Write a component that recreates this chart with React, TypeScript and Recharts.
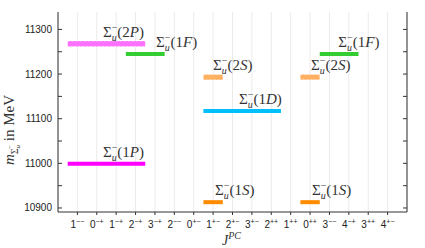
import React from 'react';
import {
  ComposedChart,
  XAxis,
  YAxis,
  CartesianGrid,
  ReferenceLine,
  ReferenceArea,
  ReferenceDot,
  Label,
} from 'recharts';

// J^PC channels along the x axis (position = index + 1)
const channels = ['1−−', '0−+', '1−+', '2−+', '3−+', '2−−', '0+−', '1+−', '2+−', '3+−', '2++', '1++', '0++', '3−−', '4−+', '3++', '4+−'];

// levels, one entry per drawn bar
const levelNames = ['1P', '2P', '1F', '1F', '2S', '2S', '1D', '1S', '1S'];
const levelMass = [10999, 11268, 11245, 11245, 11193, 11193, 11117, 10913, 10913];
const levelError = [0, 6, 0, 0, 6, 6, 0, 0, 0];
const levelFrom = ['1−−', '1−−', '2−+', '3−−', '1+−', '0++', '1+−', '1+−', '0++'];
const levelTo = ['2−+', '2−+', '3−+', '4−+', '1+−', '0++', '2++', '1+−', '0++'];

const massTicks = [10900, 10950, 11000, 11050, 11100, 11150, 11200, 11250, 11300];

// styling / layout
const colors: Record<string, string> = {
  '1P': '#ff00ff',
  '2P': '#ff70ff',
  '1F': '#33cc33',
  '2S': '#ffb060',
  '1D': '#00bfff',
  '1S': '#ff8c00',
};
const labelLeft = [2.32, 2.32, 5.06, 14.46, 8.0, 13.05, 9.34, 8.1, 13.1];

const SERIF = '"Liberation Serif", "DejaVu Serif", serif';
const SANS = '"Liberation Sans", Arial, sans-serif';

const pos = (c: string) => channels.indexOf(c) + 1;

function StateLabel(props: any) {
  const { viewBox, name } = props;
  const x = viewBox.x;
  const y = viewBox.y - 7;
  return (
    <text x={x} y={y} fontFamily={SERIF} fontSize={15} fill="#333">
      Σ
      <tspan fontSize={10} fontStyle="italic" dy={4}>u</tspan>
      <tspan fontSize={10} dx={-5} dy={-10}>−</tspan>
      <tspan dy={6}>({name[0]}<tspan fontStyle="italic">{name[1]}</tspan>)</tspan>
    </text>
  );
}

function LeftTick(props: any) {
  const { x, y, payload } = props;
  const v = payload.value;
  return (
    <g>
      <line x1={x} x2={x + 4} y1={y} y2={y} stroke="#333" />
      {v % 100 === 0 && (
        <text x={x - 6} y={y + 3.5} textAnchor="end" fontFamily={SANS} fontSize={10} fill="#222">
          {v}
        </text>
      )}
    </g>
  );
}

function RightTick(props: any) {
  const { x, y } = props;
  return <line x1={x} x2={x - 4} y1={y} y2={y} stroke="#333" />;
}

function ChannelTick(props: any) {
  const { x, y, payload } = props;
  const c = channels[payload.value - 1] || '';
  return (
    <text x={x} y={y + 11} textAnchor="middle" fontFamily={SANS} fontSize={10} fill="#222">
      {c[0]}
      <tspan fontSize={7} dy={-4}>{c.slice(1)}</tspan>
    </text>
  );
}

function XTitle(props: any) {
  const { viewBox } = props;
  const cx = viewBox.x + viewBox.width / 2 - 1;
  return (
    <text x={cx} y={245} textAnchor="middle" fontFamily={SERIF} fontSize={14} fontStyle="italic" fill="#333">
      J<tspan fontSize={10} dy={-6}>PC</tspan>
    </text>
  );
}

function YTitle() {
  return (
    <text
      transform="translate(14,130) rotate(-90)"
      textAnchor="middle"
      fontFamily={SERIF}
      fontSize={15}
      fill="#333"
    >
      <tspan fontStyle="italic">m</tspan>
      <tspan fontSize={10} dy={4}>Σ</tspan>
      <tspan fontSize={7} fontStyle="italic" dy={2}>u</tspan>
      <tspan fontSize={7} dx={-4} dy={-8}>−</tspan>
      <tspan dy={2}> in MeV</tspan>
    </text>
  );
}

export default function App() {
  return (
    <div style={{ position: 'absolute', left: 0, top: 0 }}>
      <ComposedChart
        width={425}
        height={248}
        data={[]}
        margin={{ top: 12, right: 0, bottom: 0, left: 0 }}
      >
        <CartesianGrid horizontal={false} stroke="#ebebeb" />
        <XAxis
          type="number"
          dataKey="x"
          domain={[0, 18]}
          ticks={channels.map((_, i) => i + 1)}
          interval={0}
          allowDataOverflow
          height={36}
          tickSize={3}
          tickLine={{ stroke: '#333' }}
          axisLine={{ stroke: '#333' }}
          tick={<ChannelTick />}
          label={<Label content={<XTitle />} />}
        />
        <YAxis
          type="number"
          domain={[10891, 11339]}
          ticks={massTicks}
          interval={0}
          allowDataOverflow
          width={58}
          tickSize={0}
          tickMargin={0}
          tickLine={false}
          axisLine={{ stroke: '#333' }}
          tick={<LeftTick />}
          label={<Label content={<YTitle />} />}
        />
        <YAxis
          yAxisId="right"
          orientation="right"
          type="number"
          domain={[10891, 11339]}
          ticks={massTicks}
          interval={0}
          allowDataOverflow
          width={18}
          tickSize={0}
          tickMargin={0}
          tickLine={false}
          axisLine={{ stroke: '#333' }}
          tick={<RightTick />}
        />
        {levelNames.map((name, i) => {
          const x1 = pos(levelFrom[i]) - 0.5;
          const x2 = pos(levelTo[i]) + 0.5;
          const m = levelMass[i];
          const e = levelError[i];
          if (e > 0) {
            return (
              <ReferenceArea
                key={`lvl-${i}`}
                x1={x1}
                x2={x2}
                y1={m - e}
                y2={m + e}
                fill={colors[name]}
                fillOpacity={1}
                stroke="#ffffff"
                strokeOpacity={0.5}
                strokeDasharray="2 2"
              />
            );
          }
          return (
            <ReferenceLine
              key={`lvl-${i}`}
              segment={[{ x: x1, y: m }, { x: x2, y: m }]}
              stroke={colors[name]}
              strokeWidth={4}
            />
          );
        })}
        {levelNames.map((name, i) => (
          <ReferenceDot
            key={`lab-${i}`}
            x={labelLeft[i]}
            y={levelMass[i]}
            r={0}
            fill="none"
            stroke="none"
            label={<StateLabel name={name} />}
          />
        ))}
      </ComposedChart>
    </div>
  );
}
